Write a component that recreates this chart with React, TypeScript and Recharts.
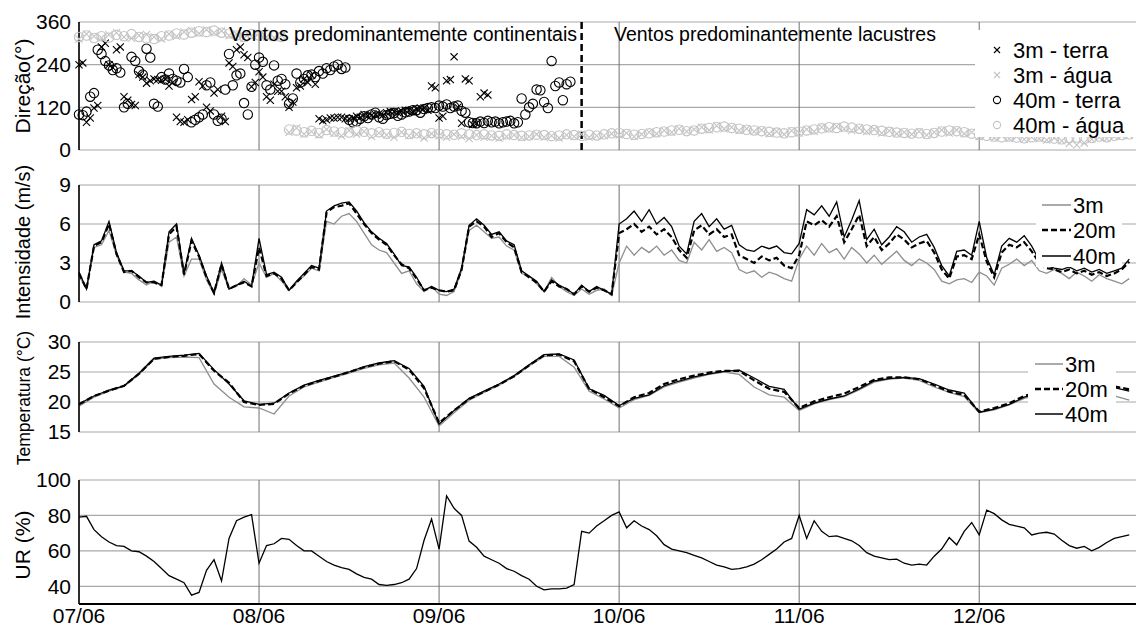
import React from "react";
import {
  CartesianGrid,
  Line,
  LineChart,
  ReferenceLine,
  Scatter,
  ScatterChart,
  XAxis,
  YAxis,
} from "recharts";

const FONT = '"Liberation Sans", Arial, Helvetica, sans-serif';
const W = 1136;
const AXIS_W = 79;
const END_H = 140.9;

// time axis (hours since 07/06 00:00)
const dayTicks = [0, 24, 48, 72, 96, 120];
const dayLabels = ["07/06", "08/06", "09/06", "10/06", "11/06", "12/06"];
const transitionHour = 67;

const dirTicks = [0, 120, 240, 360];
const windTicks = [0, 3, 6, 9];
const tempTicks = [15, 20, 25, 30];
const rhTicks = [40, 60, 80, 100];

// wind direction, half-hourly, land sensors (degrees)
const terra3 = [
  240, 245, 78, 90, 118, 125, 290, 300, 240, 232, 282, 290,
  150, 140, 128, 125, 212, 205, 188, 195, 200, 198, 196, 200,
  180, 190, 92, 80, 78, 85, 142, 150, 192, 180, 120, 110,
  160, 170, 95, 80, 245, 235, 282, 290, 268, 260, 178, 190,
  220, 205, 150, 140, 185, 165, 165, 150, 120, 135, 175, 180,
  200, 190, 210, 185, 88, 82, 85, 90, 90, 92, 92, 88,
  88, 90, 95, 92, 100, 96, 98, 100, 102, 98, 105, 108,
  108, 105, 110, 112, 112, 108, 115, 118, 118, 112, 180, 175,
  90, 95, 195, 198, 262, 120, 75, 200, 195, 72, 75, 150,
  160, 155,
];
const terra40 = [
  100, 98, 108, 150, 160, 282, 270, 250, 238, 225, 230, 218,
  120, 130, 262, 250, 222, 212, 285, 260, 130, 122, 205, 198,
  215, 200, 195, 190, 228, 205, 78, 85, 92, 100, 182, 190,
  100, 82, 88, 170, 270, 182, 210, 215, 132, 100, 178, 240,
  260, 248, 182, 170, 238, 195, 200, 185, 130, 145, 215, 190,
  200, 210, 212, 205, 222, 215, 230, 225, 235, 240, 228, 232,
  85, 78, 80, 88, 95, 90, 100, 105, 92, 88, 98, 102,
  104, 96, 100, 106, 108, 112, 112, 105, 115, 118, 120, 118,
  125, 122, 128, 118, 122, 125, 110, 105, 78, 76, 75, 80,
  76, 82, 78, 80, 75, 78, 80, 82, 75, 78, 145, 100,
  120, 130, 170, 168, 135, 118, 250, 180, 190, 140, 185, 192,
];
// wind direction, hourly, water sensors (degrees)
const agua3 = [
  312, 326, 320, 316, 324, 330, 318, 314, 322, 325,
  318, 312, 326, 320, 332, 336, 328, 338, 330, 335,
  322, 326, 314, 320, 328, 318, 316, 322,
  50, 62, 45, 52, 42, 58, 47, 40, 55, 44,
  52, 38, 48, 42, 36, 50, 40, 44, 34, 46,
  40, 36, 44, 38, 32, 42, 36, 40, 33, 38,
  42, 35, 38, 44, 36, 40, 34, 42, 38, 44,
  36, 40,
  40, 46, 42, 48, 38, 44, 50, 46, 55, 50,
  60, 52, 58, 64, 56, 68, 60, 64, 55, 60,
  52, 56, 46, 52, 44, 54, 48, 58, 52, 64,
  58, 66, 60, 55, 62, 52, 58, 48, 54, 46,
  50, 44, 52, 42, 50, 56, 48, 56, 46, 50,
  38, 44, 34, 40, 32, 38, 30, 36, 32, 28,
  34, 26, 18, 14, 20, 30, 36, 32, 38, 40,
  42,
];
const agua40 = [
  318, 322, 315, 320, 316, 324, 320, 326, 318, 314,
  312, 320, 322, 328, 325, 330, 334, 332, 336, 330,
  328, 322, 318, 326, 322, 325, 320, 318,
  58, 55, 50, 54, 48, 56, 52, 50, 49, 54,
  51, 47, 50, 46, 48, 51, 45, 47, 44, 48,
  46, 44, 43, 47, 44, 42, 44, 41, 40, 44,
  42, 40, 41, 43, 42, 39, 41, 44, 42, 40,
  43, 41,
  44, 47, 48, 45, 43, 45, 47, 50, 52, 55,
  57, 53, 55, 60, 62, 64, 66, 62, 60, 57,
  55, 53, 51, 49, 47, 50, 52, 55, 58, 61,
  64, 62, 66, 63, 60, 58, 56, 54, 51, 49,
  48, 46, 47, 45, 48, 52, 55, 53, 50, 46,
  42, 40, 38, 36, 38, 35, 33, 36, 38, 34,
  32, 30, 33, 35, 31, 34, 38, 36, 40, 42,
  44,
];

// wind speed, hourly (m/s)
const wind3 = [
  2.0, 1.0, 4.2, 4.4, 5.5, 3.6, 2.3, 2.2, 1.7, 1.3,
  1.6, 1.2, 4.6, 5.0, 2.0, 3.3, 3.3, 1.7, 0.6, 2.5,
  1.0, 1.2, 1.8, 1.3, 3.0, 1.9, 2.2, 1.6, 0.9, 1.5,
  2.0, 2.6, 2.4, 6.2, 6.0, 6.6, 6.8, 6.2, 5.3, 4.4,
  4.0, 3.8, 3.0, 2.2, 2.4, 1.4, 0.8, 1.2, 0.6, 0.5,
  0.8, 2.4, 5.5, 5.9, 5.4, 4.9, 5.0, 4.3, 4.0, 2.2,
  2.0, 1.4, 0.8, 1.9, 1.2, 0.8, 0.5, 1.0, 0.6, 0.9,
  1.0, 0.5, 3.0, 4.3, 3.6, 4.2, 3.8, 4.3, 3.6, 4.0,
  3.2, 3.0, 4.6, 4.0, 4.8, 3.9, 4.2, 3.8, 2.5, 2.2,
  2.4, 1.9, 2.3, 2.1, 1.8, 1.6, 3.3, 4.3, 3.6, 4.5,
  3.8, 4.1, 3.3, 4.2, 3.7, 3.0, 3.6, 2.9, 3.4, 3.9,
  3.2, 2.8, 3.3, 3.0, 2.5, 1.6, 1.4, 1.7, 1.8, 1.5,
  2.3, 2.0, 1.3, 2.6, 2.9, 3.3, 2.8, 3.2, 2.4, 2.2,
  2.5, 2.2, 1.8, 2.3, 2.0, 1.6, 2.1, 1.8, 1.6, 1.4, 1.8,
];
const wind20 = [
  2.2, 1.0, 4.3, 4.6, 6.0, 3.7, 2.3, 2.4, 1.9, 1.5,
  1.5, 1.3, 5.2, 5.8, 2.1, 4.7, 3.5, 1.9, 0.7, 2.9,
  1.0, 1.3, 1.5, 1.2, 4.2, 2.0, 2.2, 1.8, 0.9, 1.5,
  2.1, 2.7, 2.5, 6.9, 7.3, 7.4, 7.6, 6.8, 6.0, 5.3,
  4.8, 4.4, 3.6, 2.9, 2.6, 1.8, 0.9, 1.1, 0.9, 0.8,
  0.9, 2.5, 5.8, 6.2, 5.8, 5.0, 5.3, 4.6, 4.2, 2.3,
  1.9, 1.5, 0.8, 1.6, 1.2, 1.0, 0.6, 1.2, 0.8, 1.1,
  0.9, 0.6, 5.3, 5.6, 6.0, 5.4, 5.8, 5.2, 5.6, 5.0,
  4.0, 3.4, 5.5, 5.9, 5.2, 5.6, 5.0, 5.2, 3.6, 3.3,
  3.0, 3.5, 3.2, 3.4, 2.8, 2.6, 3.6, 6.2, 5.9, 6.3,
  5.8, 6.6, 4.6, 5.6, 6.7, 4.3, 5.0, 4.0, 4.5, 5.2,
  4.8, 4.2, 4.5, 4.7, 3.8, 2.5, 1.8, 3.5, 3.6, 3.3,
  5.2, 3.1, 1.9, 3.8, 4.4, 4.2, 4.6, 3.9, 3.0, 2.6,
  2.5, 2.3, 2.5, 2.2, 2.4, 2.1, 2.3, 2.0, 2.2, 2.5, 3.1,
];
const wind40 = [
  2.3, 1.0, 4.4, 4.7, 6.2, 3.8, 2.4, 2.4, 2.0, 1.5,
  1.6, 1.3, 5.4, 6.0, 2.2, 4.9, 3.6, 2.0, 0.7, 3.0,
  1.0, 1.3, 1.6, 1.2, 4.9, 2.1, 2.3, 1.9, 0.9, 1.6,
  2.2, 2.8, 2.6, 7.0, 7.4, 7.6, 7.7, 7.0, 6.1, 5.4,
  4.9, 4.5, 3.7, 2.8, 2.7, 1.9, 0.9, 1.2, 0.9, 0.8,
  1.0, 2.6, 5.9, 6.4, 5.9, 5.2, 5.4, 4.7, 4.4, 2.4,
  2.0, 1.6, 0.8, 1.7, 1.3, 1.0, 0.6, 1.3, 0.8, 1.2,
  0.9, 0.6, 6.0, 6.4, 7.0, 6.2, 7.1, 6.0, 6.5, 5.8,
  4.3, 3.7, 6.2, 6.8, 5.8, 6.4, 5.6, 5.9, 4.4, 4.0,
  3.9, 4.3, 4.1, 4.3, 3.8, 3.7, 4.5, 7.1, 6.7, 7.4,
  6.6, 7.7, 5.0, 6.3, 7.8, 4.8, 5.6, 4.4, 5.0, 5.8,
  5.4, 4.6, 5.0, 5.2, 4.2, 2.8, 2.0, 3.9, 4.0, 3.6,
  6.2, 3.4, 2.1, 4.3, 4.9, 4.6, 5.1, 4.3, 3.2, 2.8,
  2.6, 2.5, 2.7, 2.4, 2.6, 2.3, 2.5, 2.2, 2.4, 2.6, 3.3,
];

// air temperature, every 2 h (°C)
const temp3 = [
  19.3, 20.8, 21.8, 22.6, 24.6, 27.1, 27.4, 27.5, 27.4, 23.0,
  20.8, 19.2, 19.0, 18.0, 21.0, 22.5, 23.3, 24.1, 24.8, 25.6,
  26.2, 26.5, 24.0, 20.8, 16.0, 18.2, 20.3, 21.6, 22.8, 24.2,
  26.0, 27.6, 27.6, 25.8, 21.8, 20.5, 19.0, 20.4, 21.1, 22.5,
  23.3, 24.0, 24.6, 25.0, 24.6, 22.5, 21.2, 20.8, 18.6, 19.7,
  20.4, 20.9, 22.0, 23.3, 23.8, 24.0, 23.6, 22.5, 21.6, 20.9,
  18.2, 18.7, 19.5, 20.6, 21.2, 21.6, 22.0, 22.2, 21.8, 21.0,
  20.3,
];
const temp20 = [
  19.6, 21.0, 21.9, 22.7, 24.7, 27.2, 27.5, 27.7, 28.0, 25.2,
  23.2, 20.0, 19.5, 19.7, 21.4, 22.7, 23.5, 24.2, 25.0, 25.8,
  26.4, 26.8, 25.4, 22.3, 16.5, 18.6, 20.5, 21.7, 22.9, 24.3,
  26.1, 27.8, 27.9, 26.8, 22.2, 20.8, 19.3, 20.8, 21.5, 23.0,
  23.8, 24.4, 24.9, 25.2, 25.2, 23.6, 22.2, 21.7, 19.0, 20.1,
  20.8, 21.4, 22.5, 23.7, 24.1, 24.1, 23.8, 22.8, 21.7, 21.2,
  18.4, 19.0, 19.8, 21.0, 21.8, 22.3, 22.8, 23.2, 23.0, 22.6,
  22.1,
];
const temp40 = [
  19.7, 21.0, 22.0, 22.7, 24.8, 27.3, 27.6, 27.8, 28.1, 25.4,
  23.0, 20.2, 19.6, 19.8, 21.5, 22.8, 23.6, 24.3, 25.0, 25.9,
  26.5, 26.9, 25.6, 22.6, 16.3, 18.6, 20.6, 21.8, 23.0, 24.4,
  26.2, 27.9, 28.0, 27.0, 22.2, 21.1, 19.4, 20.6, 21.2, 22.7,
  23.5, 24.2, 24.7, 25.1, 25.3, 24.0, 22.6, 22.1, 18.8, 19.8,
  20.5, 21.0, 22.2, 23.5, 23.9, 24.1, 23.9, 23.0, 22.0, 21.5,
  18.3, 18.8, 19.6, 20.8, 21.5, 22.0, 22.5, 23.0, 22.8, 22.4,
  21.8,
];

// relative humidity, hourly (%)
const rh = [
  79, 79.5, 72, 68, 65, 63, 62.5, 60, 59.5, 57,
  54, 50, 46, 44, 42, 35, 36.5, 49, 55, 43,
  67, 77, 79, 80.5, 53, 63, 64, 67, 66.5, 63,
  60, 60, 57, 54, 52, 50.5, 49.5, 47, 45, 44,
  41, 40.5, 41, 42, 44, 50, 66, 78, 61, 91,
  84, 80, 65.5, 62, 57, 55, 53, 50, 48.5, 46,
  44, 40, 38, 38.5, 38.5, 39, 41, 71, 70, 74,
  77, 80, 82, 73, 77, 74, 72, 68.5, 63.5, 61,
  60, 59, 57.5, 56, 54, 52, 51, 49.6, 50, 51,
  52.5, 55, 58, 61, 65, 67, 80, 67, 77, 71,
  68, 68.5, 67, 65.7, 63, 59, 57, 56, 55, 55.3,
  53, 52, 52.5, 52, 57, 61, 67.5, 63.4, 71, 76,
  69, 83, 81, 77.5, 75, 74, 73, 69, 70, 70.5,
  69.5, 66, 63, 61.5, 62.5, 60, 62, 64.7, 67, 68, 69,
];

const GRAY = "#8e8e8e";
const LIGHT = "#c4c4c4";
const H_GRID = "#a8a8a8";
const V_GRID = "#707070";

const toPoints = (vals: number[], step: number) => vals.map((d, i) => ({ h: i * step, d }));
const windRows = wind40.map((v, i) => ({ h: i, w3: wind3[i], w20: wind20[i], w40: v }));
const tempRows = temp40.map((v, i) => ({ h: i * 2, t3: temp3[i], t20: temp20[i], t40: v }));
const rhRows = rh.map((v, i) => ({ h: i, rh: v }));

const XMark = ({ cx, cy, color, r = 3.6 }: any) => (
  <path
    d={`M${cx - r},${cy - r}L${cx + r},${cy + r}M${cx - r},${cy + r}L${cx + r},${cy - r}`}
    stroke={color}
    strokeWidth={1.1}
    fill="none"
  />
);
const OMark = ({ cx, cy, color, r = 4.7 }: any) => (
  <circle cx={cx} cy={cy} r={r} stroke={color} strokeWidth={1.1} fill="none" />
);
const NoTick = () => <g />;

const yProps = {
  type: "number" as const,
  width: AXIS_W,
  tickLine: false,
  tickSize: 6,
  tickMargin: 2,
  interval: 0 as const,
  axisLine: { stroke: "#000", strokeWidth: 1.5 },
  tick: { fontSize: 21, fill: "#000", fontFamily: FONT },
};
const xHidden = {
  type: "number" as const,
  dataKey: "h",
  domain: [0, END_H],
  ticks: dayTicks,
  interval: 0 as const,
  tick: NoTick,
  tickLine: false,
  height: 0,
  axisLine: { stroke: "#000", strokeWidth: 2 },
};
const xTop = {
  xAxisId: "top",
  orientation: "top" as const,
  type: "number" as const,
  domain: [0, END_H],
  ticks: dayTicks,
  tick: NoTick,
  tickLine: false,
  height: 0,
  axisLine: { stroke: "#000", strokeWidth: 2 },
};

const PAD = 14;

export default function App() {
  const panel = (plotTop: number): React.CSSProperties => ({ position: "absolute", left: 0, top: plotTop - PAD });
  const hGrid = <CartesianGrid vertical={false} stroke={H_GRID} strokeWidth={1.2} />;
  const vGrid = <CartesianGrid horizontal={false} verticalValues={dayTicks} stroke={V_GRID} strokeWidth={1} />;
  return (
    <div
      style={{
        position: "absolute",
        left: 0,
        top: 0,
        width: W,
        height: 626,
        overflow: "hidden",
        background: "#fff",
        fontFamily: FONT,
      }}
    >
      <div style={{ position: "absolute", left: 0, top: 0 }}>
        <ScatterChart width={W} height={150 + PAD} margin={{ top: 22, right: 0, bottom: PAD, left: 0 }}>
          {hGrid}
          {vGrid}
          <XAxis {...xHidden} />
          <XAxis {...xTop} />
          <YAxis {...yProps} dataKey="d" domain={[0, 360]} ticks={dirTicks} />
          <Scatter data={toPoints(terra3, 0.5)} isAnimationActive={false}
            shape={(p: any) => <XMark cx={p.cx} cy={p.cy} color="#000" />} />
          <Scatter data={toPoints(agua3, 1)} isAnimationActive={false}
            shape={(p: any) => <XMark cx={p.cx} cy={p.cy} color={LIGHT} />} />
          <Scatter data={toPoints(terra40, 0.5)} isAnimationActive={false}
            shape={(p: any) => <OMark cx={p.cx} cy={p.cy} color="#000" />} />
          <Scatter data={toPoints(agua40, 1)} isAnimationActive={false}
            shape={(p: any) => <OMark cx={p.cx} cy={p.cy} color={LIGHT} />} />
          <ReferenceLine x={transitionHour} stroke="#000" strokeWidth={2.5} strokeDasharray="7 4" />
        </ScatterChart>
      </div>

      <div style={panel(185)}>
        <LineChart width={W} height={117 + PAD * 2} data={windRows} margin={{ top: PAD, right: 0, bottom: PAD, left: 0 }}>
          {hGrid}
          {vGrid}
          <XAxis {...xHidden} />
          <XAxis {...xTop} />
          <YAxis {...yProps} domain={[0, 9]} ticks={windTicks} />
          <Line dataKey="w3" stroke={GRAY} strokeWidth={1.3} dot={false} isAnimationActive={false} />
          <Line dataKey="w20" stroke="#000" strokeWidth={2.2} strokeDasharray="6 3" dot={false} isAnimationActive={false} />
          <Line dataKey="w40" stroke="#000" strokeWidth={1.3} dot={false} isAnimationActive={false} />
        </LineChart>
      </div>

      <div style={panel(342)}>
        <LineChart width={W} height={90 + PAD * 2} data={tempRows} margin={{ top: PAD, right: 0, bottom: PAD, left: 0 }}>
          {hGrid}
          {vGrid}
          <XAxis {...xHidden} />
          <XAxis {...xTop} />
          <YAxis {...yProps} domain={[15, 30]} ticks={tempTicks} />
          <Line dataKey="t3" stroke={GRAY} strokeWidth={1.3} dot={false} isAnimationActive={false} />
          <Line dataKey="t20" stroke="#000" strokeWidth={2.2} strokeDasharray="6 3" dot={false} isAnimationActive={false} />
          <Line dataKey="t40" stroke="#000" strokeWidth={1.3} dot={false} isAnimationActive={false} />
        </LineChart>
      </div>

      <div style={panel(480)}>
        <LineChart width={W} height={124 + PAD + 22} data={rhRows} margin={{ top: PAD, right: 0, bottom: 0, left: 0 }}>
          {hGrid}
          {vGrid}
          <XAxis
            type="number"
            dataKey="h"
            domain={[0, END_H]}
            ticks={dayTicks}
            interval={0}
            height={22}
            tickLine={false}
            tickSize={0}
            tickMargin={4}
            axisLine={{ stroke: "#000", strokeWidth: 2 }}
            tick={{ fontSize: 21, fill: "#000", fontFamily: FONT }}
            tickFormatter={(v: number) => dayLabels[dayTicks.indexOf(v)] ?? ""}
          />
          <XAxis {...xTop} />
          <YAxis {...yProps} domain={[30, 100]} ticks={rhTicks} />
          <Line dataKey="rh" stroke="#000" strokeWidth={1.3} dot={false} isAnimationActive={false} />
        </LineChart>
      </div>

      <svg
        width={W}
        height={626}
        style={{ position: "absolute", left: 0, top: 0, pointerEvents: "none" }}
        fontFamily={FONT}
      >
        {/* axis titles */}
        <text transform="translate(30,86) rotate(-90)" textAnchor="middle" fontSize={21}>Direção(°)</text>
        <text transform="translate(30,242) rotate(-90)" textAnchor="middle" fontSize={20}>Intensidade (m/s)</text>
        <text transform="translate(30,398) rotate(-90)" textAnchor="middle" fontSize={17.5}>Temperatura (°C)</text>
        <text transform="translate(30,545) rotate(-90)" textAnchor="middle" fontSize={21}>UR (%)</text>

        {/* regime annotations */}
        <text x={229} y={41} fontSize={19.5}>Ventos predominantemente continentais</text>
        <text x={614} y={41} fontSize={19.5}>Ventos predominantemente lacustres</text>

        {/* legend: direction */}
        <rect x={975} y={30} width={161} height={107} fill="#fff" />
        <XMark cx={997} cy={50} color="#000" r={3} />
        <text x={1013} y={58} fontSize={22}>3m - terra</text>
        <XMark cx={997} cy={75} color={LIGHT} r={3} />
        <text x={1013} y={83} fontSize={22}>3m - água</text>
        <OMark cx={997} cy={100} color="#000" r={3.6} />
        <text x={1013} y={108} fontSize={22}>40m - terra</text>
        <OMark cx={997} cy={125} color={LIGHT} r={3.6} />
        <text x={1013} y={133} fontSize={22}>40m - água</text>

        {/* legend: wind speed */}
        <rect x={1036} y={188} width={86} height={79} fill="#fff" />
        <line x1={1042} x2={1071} y1={205} y2={205} stroke={GRAY} strokeWidth={1.5} />
        <text x={1073} y={213} fontSize={22}>3m</text>
        <line x1={1042} x2={1071} y1={230} y2={230} stroke="#000" strokeWidth={2.6} strokeDasharray="6 3" />
        <text x={1073} y={238} fontSize={22}>20m</text>
        <line x1={1042} x2={1071} y1={256} y2={256} stroke="#000" strokeWidth={1.5} />
        <text x={1073} y={264} fontSize={22}>40m</text>

        {/* legend: temperature */}
        <rect x={1028} y={349} width={88} height={80} fill="#fff" />
        <line x1={1035} x2={1063} y1={364} y2={364} stroke={GRAY} strokeWidth={1.5} />
        <text x={1065} y={372} fontSize={22}>3m</text>
        <line x1={1035} x2={1063} y1={389} y2={389} stroke="#000" strokeWidth={2.6} strokeDasharray="6 3" />
        <text x={1065} y={397} fontSize={22}>20m</text>
        <line x1={1035} x2={1063} y1={414} y2={414} stroke="#000" strokeWidth={1.5} />
        <text x={1065} y={422} fontSize={22}>40m</text>
      </svg>
    </div>
  );
}
